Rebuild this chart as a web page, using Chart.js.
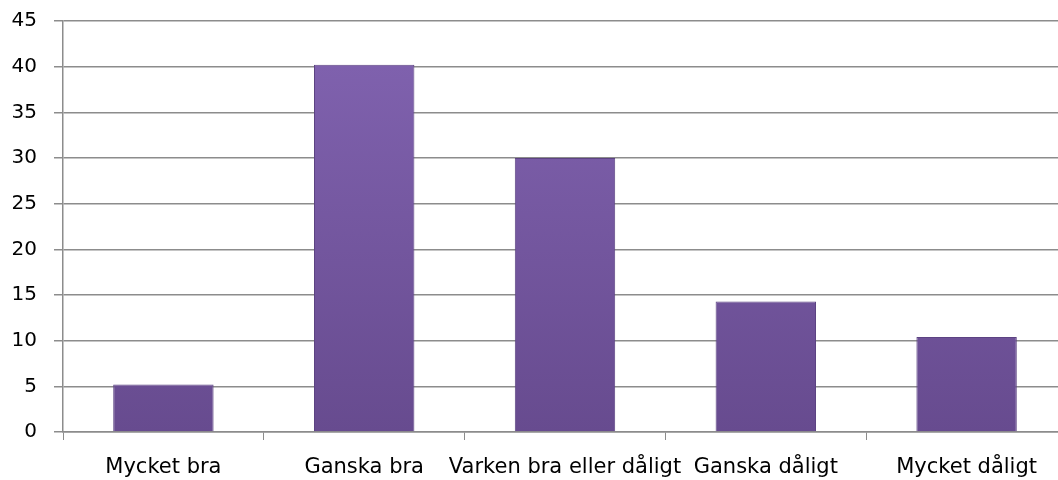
<!DOCTYPE html>
<html>
<head>
<meta charset="utf-8">
<script src="https://cdn.jsdelivr.net/npm/chart.js@4/dist/chart.umd.min.js"></script>
<style>
  html, body { margin: 0; padding: 0; background: #fff; overflow: hidden; }
  #wrap { width: 1067px; height: 480px; }
</style>
</head>
<body>
<div id="wrap"><canvas id="c"></canvas></div>
<script>
const categories = ["Mycket bra", "Ganska bra", "Varken bra eller dåligt", "Ganska dåligt", "Mycket dåligt"];
const values = [5.2, 40.2, 30.0, 14.3, 10.4];
const yMax = 45;
const yStep = 5;

// vertical purple gradient for each bar, light bevel at the top
function barFill(ctx) {
  const chart = ctx.chart;
  const area = chart.chartArea;
  if (!area) return "#7b5ea7";
  const el = ctx.element;
  const top = el && isFinite(el.y) ? el.y : area.top;
  const bottom = el && isFinite(el.base) ? el.base : area.bottom;
  const h = Math.max(bottom - top, 1);
  const g = chart.ctx.createLinearGradient(0, top, 0, bottom);
  const b = Math.min(7 / h, 0.3);
  g.addColorStop(0, "#b898ea");
  g.addColorStop(b, "#9070c2");
  g.addColorStop(Math.min(b * 1.6, 0.5), "#8163b0");
  g.addColorStop(1, "#674b8f");
  return g;
}

const config = {
  type: "bar",
  data: {
    labels: categories,
    datasets: [{
      data: values,
      backgroundColor: barFill,
      borderColor: "#5c4382",
      borderWidth: 1,
      barPercentage: 0.5,
      categoryPercentage: 1.0,
    }],
  },
  options: {
    responsive: true,
    maintainAspectRatio: false,
    animation: false,
    layout: { padding: 0 },
    plugins: { legend: { display: false }, tooltip: { enabled: false } },
    scales: {
      x: {
        grid: { drawOnChartArea: false, drawTicks: true, tickLength: 8, color: "#8c8c8c" },
        border: { color: "#8c8c8c", width: 1.5 },
        ticks: { color: "#000", font: { family: "DejaVu Sans", size: 21 }, padding: 15, maxRotation: 0, autoSkip: false },
        afterFit: (s) => { s.height = 48; },
      },
      y: {
        min: 0,
        max: yMax,
        ticks: { stepSize: yStep, color: "#000", font: { family: "DejaVu Sans", size: 20 }, padding: 17 },
        grid: { color: "#8c8c8c", tickLength: 9, lineWidth: 1.5 },
        border: { color: "#8c8c8c", width: 1.5 },
        afterFit: (s) => { s.width = 63; s.paddingTop = 21; s.paddingBottom = 0; },
      },
    },
  },
};

new Chart(document.getElementById("c"), config);
</script>
</body>
</html>
